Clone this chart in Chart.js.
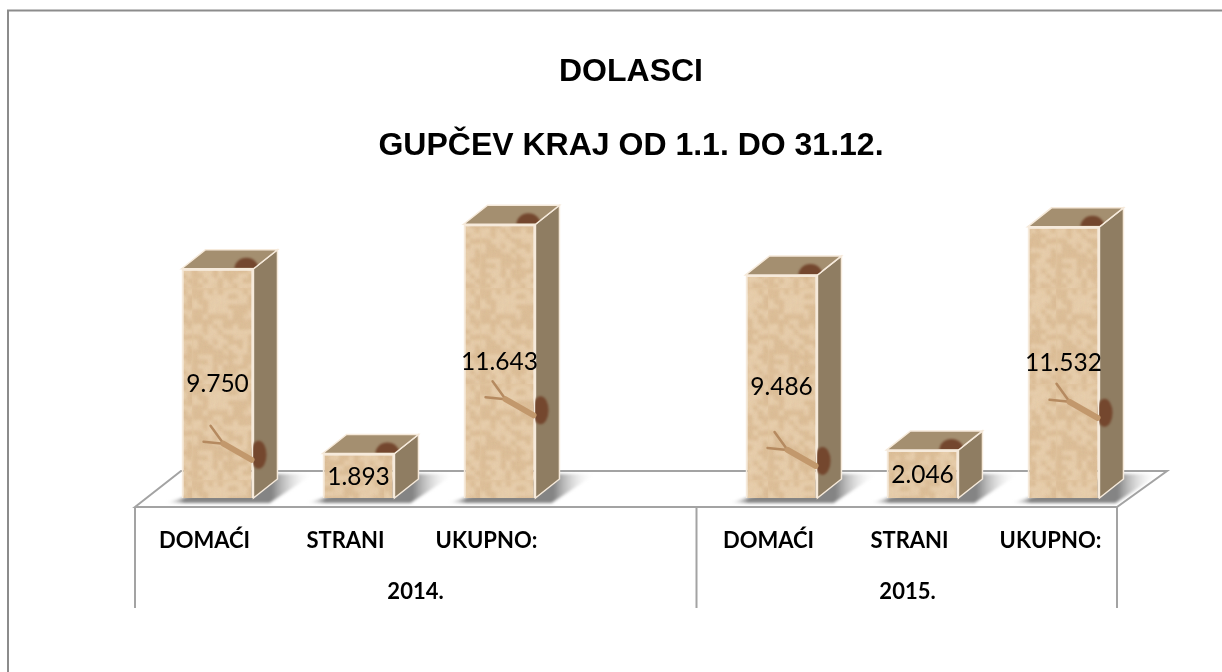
<!DOCTYPE html>
<html>
<head>
<meta charset="utf-8">
<title>Dolasci</title>
<script src="https://cdn.jsdelivr.net/npm/chart.js@4"></script>
<style>
  html, body { margin: 0; padding: 0; background: #fff; }
  #wrap { width: 1222px; height: 672px; }
</style>
</head>
<body>
<div id="wrap"><canvas id="chartCanvas" width="1222" height="672"></canvas></div>
<script>
const categories = ['DOMAĆI', 'STRANI', 'UKUPNO:', '', 'DOMAĆI', 'STRANI', 'UKUPNO:'];
const arrivals = [9750, 1893, 11643, null, 9486, 2046, 11532];
const valueLabels = ['9.750', '1.893', '11.643', '', '9.486', '2.046', '11.532'];
const years = ['2014.', '2015.'];
const titleLines = ['DOLASCI', 'GUPČEV KRAJ OD 1.1. DO 31.12.'];

const depthX = 24;
const depthY = 19;
const lineGrey = '#a3a3a3';

// Small repeating tile for the mottled sand look of the bars
function sandPattern(ctx) {
  const tile = document.createElement('canvas');
  tile.width = 96;
  tile.height = 96;
  const t = tile.getContext('2d');
  t.fillStyle = '#e2c6a1';
  t.fillRect(0, 0, 96, 96);
  t.filter = 'blur(1.6px)';
  for (let y = 0; y < 96; y += 5) {
    for (let x = 0; x < 96; x += 5) {
      const n = Math.sin(x * 12.9898 + y * 78.233) * 43758.5453;
      const f = n - Math.floor(n);
      t.fillStyle = f > 0.5 ? 'rgba(238,216,186,0.5)' : 'rgba(208,176,134,0.35)';
      t.fillRect(x + f * 2, y + f * 3, 5, 5);
    }
  }
  return ctx.createPattern(tile, 'repeat');
}

function drawShell(ctx, x, y, rx, ry) {
  ctx.fillStyle = '#74472e';
  ctx.filter = 'blur(1px)';
  ctx.beginPath();
  ctx.ellipse(x, y, rx, ry, 0, 0, Math.PI * 2);
  ctx.fill();
  ctx.filter = 'none';
}

// Floor, side and top faces, the snail, frame and group labels
const box3d = {
  id: 'box3d',
  beforeDatasetsDraw(chart) {
    const ctx = chart.ctx;
    const area = chart.chartArea;
    const base = area.bottom;
    const left = area.left - 12;
    const right = area.right - 17;
    const front = base + 9;

    ctx.save();
    // page frame, only the left and top edges show
    ctx.strokeStyle = '#8c8c8c';
    ctx.lineWidth = 2;
    ctx.beginPath();
    ctx.moveTo(8, 672);
    ctx.lineTo(8, 10.5);
    ctx.lineTo(1222, 10.5);
    ctx.stroke();

    // floor
    ctx.strokeStyle = lineGrey;
    ctx.lineWidth = 2;
    ctx.beginPath();
    ctx.moveTo(left, front);
    ctx.lineTo(left + 46, front - 36);
    ctx.lineTo(right + 50, front - 36);
    ctx.lineTo(right, front);
    ctx.closePath();
    ctx.stroke();

    // year dividers below the floor
    const mid = chart.scales.x.getPixelForValue(3) + 56;
    [left, mid, right].forEach(x => {
      ctx.beginPath();
      ctx.moveTo(x, front);
      ctx.lineTo(x, front + 101);
      ctx.stroke();
    });

    // soft shadows under the boxes
    const meta = chart.getDatasetMeta(0);
    meta.data.forEach((bar, i) => {
      if (arrivals[i] === null) return;
      const x0 = bar.x - bar.width / 2;
      const x1 = bar.x + bar.width / 2;
      const g = ctx.createLinearGradient(x0 - 18, 0, x1 + 60, 0);
      g.addColorStop(0, 'rgba(255,255,255,0)');
      g.addColorStop(0.14, 'rgba(125,125,125,0.95)');
      g.addColorStop(0.72, 'rgba(125,125,125,0.95)');
      g.addColorStop(1, 'rgba(255,255,255,0)');
      ctx.fillStyle = g;
      ctx.filter = 'blur(1.5px)';
      ctx.beginPath();
      ctx.moveTo(x0 - 18, base + 5);
      ctx.lineTo(x1 + 16, base + 5);
      ctx.lineTo(x1 + 60, base - 24);
      ctx.lineTo(x1 + 20, base - 24);
      ctx.closePath();
      ctx.fill();
      ctx.filter = 'none';
    });

    // side and top faces sit behind the front face
    meta.data.forEach((bar, i) => {
      if (arrivals[i] === null) return;
      const x0 = bar.x - bar.width / 2;
      const x1 = bar.x + bar.width / 2;
      const top = bar.y;
      const hasSnail = base - top > 190;

      ctx.lineWidth = 1.5;
      ctx.strokeStyle = '#f6eadb';
      ctx.fillStyle = '#8f7d62';
      ctx.beginPath();
      ctx.moveTo(x1, top);
      ctx.lineTo(x1 + depthX, top - depthY);
      ctx.lineTo(x1 + depthX, base - depthY);
      ctx.lineTo(x1, base);
      ctx.closePath();
      ctx.fill();
      ctx.stroke();

      ctx.fillStyle = '#a48f70';
      ctx.beginPath();
      ctx.moveTo(x0, top);
      ctx.lineTo(x0 + depthX, top - depthY);
      ctx.lineTo(x1 + depthX, top - depthY);
      ctx.lineTo(x1, top);
      ctx.closePath();
      ctx.fill();
      ctx.stroke();

      // shell peeking out on the lid
      ctx.save();
      ctx.beginPath();
      ctx.moveTo(x0, top - 1);
      ctx.lineTo(x0 + depthX, top - depthY);
      ctx.lineTo(x1 + depthX, top - depthY);
      ctx.lineTo(x1, top - 1);
      ctx.closePath();
      ctx.clip();
      drawShell(ctx, x1 - 7, top, 12, 11);
      ctx.restore();

      if (hasSnail) {
        drawShell(ctx, x0 + 77, top + 186, 8, 14);
      }
    });
    ctx.restore();
  },
  afterDatasetsDraw(chart) {
    const ctx = chart.ctx;
    const meta = chart.getDatasetMeta(0);
    const base = chart.chartArea.bottom;
    ctx.save();
    meta.data.forEach((bar, i) => {
      if (arrivals[i] === null) return;
      const x0 = bar.x - bar.width / 2;
      const top = bar.y;

      // snail body and feelers across the front face
      if (base - top > 190) {
        ctx.filter = 'blur(0.7px)';
        ctx.strokeStyle = '#b58a60';
        ctx.lineCap = 'round';
        ctx.lineWidth = 2.5;
        ctx.beginPath();
        ctx.moveTo(x0 + 29, top + 157);
        ctx.lineTo(x0 + 42, top + 175);
        ctx.moveTo(x0 + 22, top + 173);
        ctx.lineTo(x0 + 42, top + 175);
        ctx.stroke();
        ctx.lineWidth = 6;
        ctx.strokeStyle = '#c2986c';
        ctx.beginPath();
        ctx.moveTo(x0 + 42, top + 175);
        ctx.lineTo(x0 + 70, top + 191);
        ctx.stroke();
        ctx.filter = 'none';
      }

      ctx.fillStyle = '#000';
      ctx.font = '24.5px Lato';
      ctx.textAlign = 'center';
      ctx.textBaseline = 'middle';
      ctx.fillText(valueLabels[i], bar.x, (top + base) / 2 + 1);
    });

    // year labels under the category labels
    const x = chart.scales.x;
    ctx.fillStyle = '#000';
    ctx.font = 'bold 22px Lato';
    ctx.textAlign = 'center';
    ctx.textBaseline = 'middle';
    ctx.fillText(years[0], x.getPixelForValue(1) + 57, base + 94);
    ctx.fillText(years[1], x.getPixelForValue(5) - 15, base + 94);
    ctx.restore();
  }
};

const ctx = document.getElementById('chartCanvas').getContext('2d');

new Chart(ctx, {
  type: 'bar',
  data: {
    labels: categories,
    datasets: [{
      data: arrivals,
      backgroundColor: sandPattern(ctx),
      borderColor: '#f6eadb',
      borderWidth: 2,
      categoryPercentage: 1,
      barPercentage: 0.51
    }]
  },
  plugins: [box3d],
  options: {
    responsive: false,
    animation: false,
    layout: { padding: { left: 128, right: 88, top: 35, bottom: 0 } },
    plugins: {
      legend: { display: false },
      tooltip: { enabled: false },
      title: {
        display: true,
        text: titleLines,
        color: '#000',
        font: { family: 'Liberation Sans', size: 32, weight: 'bold', lineHeight: 2.31 },
        padding: { top: 0, bottom: 33 }
      }
    },
    scales: {
      x: {
        grid: { display: false },
        border: { display: false },
        afterFit: scale => { scale.height = 174; },
        ticks: {
          color: '#000',
          font: { family: 'Lato', size: 22, weight: 'bold' },
          maxRotation: 0,
          autoSkip: false,
          padding: 22,
          labelOffset: -13
        }
      },
      y: {
        min: 0,
        max: 12000,
        grid: { display: false },
        border: { display: false },
        ticks: { display: false },
        afterFit: scale => { scale.width = 19; }
      }
    }
  }
});
</script>
</body>
</html>
